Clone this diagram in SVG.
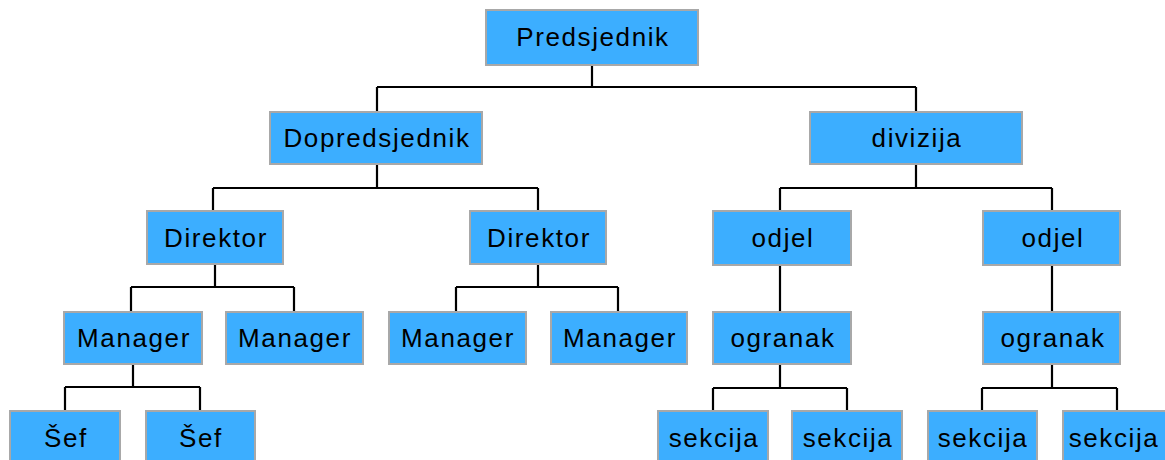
<svg xmlns="http://www.w3.org/2000/svg" width="1165" height="460" viewBox="0 0 1165 460">
<style>
.box{fill:#3caeff;stroke:#a8a8a8;stroke-width:2}
.t{font-family:"Liberation Sans",Arial,sans-serif;font-size:26px;letter-spacing:1.6px;fill:#000;text-anchor:middle}
.c{fill:none;stroke:#000;stroke-width:2.2}
</style>
<rect width="1165" height="460" fill="#fff"/>
<g id="connectors">
<path class="c" d="M592 65V87M377 87H916M377 87V112M916 87V112"/>
<path class="c" d="M377 164V188M213 188H538M213 188V211M538 188V211"/>
<path class="c" d="M916 164V188M780 188H1052M780 188V211M1052 188V211"/>
<path class="c" d="M215 264V287M131 287H294M131 287V312M294 287V312"/>
<path class="c" d="M538 264V287M456 287H618M456 287V312M618 287V312"/>
<path class="c" d="M780 265V312M1052 265V312"/>
<path class="c" d="M133 364V387M65 387H200M65 387V411M200 387V411"/>
<path class="c" d="M780 364V388M713 388H847M713 388V411M847 388V411"/>
<path class="c" d="M1052 364V388M982 388H1117M982 388V411M1117 388V411"/>
</g>
<g id="predsjednik"><rect class="box" x="486" y="10" width="212" height="55"/><text class="t" x="593" y="46">Predsjednik</text></g>
<g id="dopredsjednik"><rect class="box" x="270" y="112" width="212" height="52"/><text class="t" x="377" y="147">Dopredsjednik</text></g>
<g id="divizija"><rect class="box" x="810" y="112" width="212" height="52"/><text class="t" x="917" y="147">divizija</text></g>
<g id="direktor1"><rect class="box" x="147" y="211" width="136" height="53"/><text class="t" x="216" y="247">Direktor</text></g>
<g id="direktor2"><rect class="box" x="470" y="211" width="136" height="53"/><text class="t" x="539" y="247">Direktor</text></g>
<g id="odjel1"><rect class="box" x="713" y="211" width="138" height="54"/><text class="t" x="783" y="247">odjel</text></g>
<g id="odjel2"><rect class="box" x="983" y="211" width="137" height="54"/><text class="t" x="1053" y="247">odjel</text></g>
<g id="manager1"><rect class="box" x="64" y="312" width="138" height="52"/><text class="t" x="134" y="347">Manager</text></g>
<g id="manager2"><rect class="box" x="226" y="312" width="137" height="52"/><text class="t" x="295" y="347">Manager</text></g>
<g id="manager3"><rect class="box" x="389" y="312" width="137" height="52"/><text class="t" x="458" y="347">Manager</text></g>
<g id="manager4"><rect class="box" x="551" y="312" width="136" height="52"/><text class="t" x="620" y="347">Manager</text></g>
<g id="ogranak1"><rect class="box" x="713" y="312" width="138" height="52"/><text class="t" x="783" y="347">ogranak</text></g>
<g id="ogranak2"><rect class="box" x="983" y="312" width="137" height="52"/><text class="t" x="1053" y="347">ogranak</text></g>
<g id="sef1"><rect class="box" x="10" y="411" width="110" height="53"/><text class="t" x="66" y="447">Šef</text></g>
<g id="sef2"><rect class="box" x="146" y="411" width="109" height="53"/><text class="t" x="201" y="447">Šef</text></g>
<g id="sekcija1"><rect class="box" x="658" y="411" width="110" height="53"/><text class="t" x="714" y="447">sekcija</text></g>
<g id="sekcija2"><rect class="box" x="792" y="411" width="110" height="53"/><text class="t" x="848" y="447">sekcija</text></g>
<g id="sekcija3"><rect class="box" x="928" y="411" width="109" height="53"/><text class="t" x="983" y="447">sekcija</text></g>
<g id="sekcija4"><rect class="box" x="1063" y="411" width="110" height="53"/><text class="t" x="1114" y="447">sekcija</text></g>
</svg>
